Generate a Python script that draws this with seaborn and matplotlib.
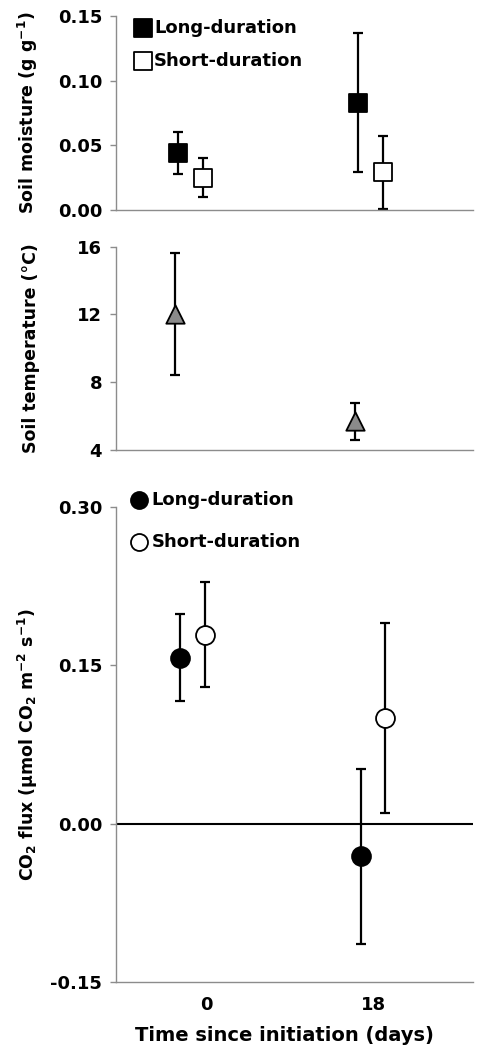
import numpy as np
import matplotlib
matplotlib.use("Agg")
import matplotlib.pyplot as plt
from matplotlib.ticker import FormatStrFormatter
import seaborn as sns

# values (mean and error bar half-width)
days = ["0", "18"]

moist_long = [0.044, 0.083]
moist_long_err = [0.016, 0.054]
moist_short = [0.025, 0.029]
moist_short_err = [0.015, 0.028]

temp = [12.0, 5.7]
temp_err = [3.6, 1.1]

flux_long = [0.157, -0.031]
flux_long_err = [0.041, 0.083]
flux_short = [0.179, 0.100]
flux_short_err = [0.050, 0.090]

sns.set_style("ticks")
plt.rcParams["font.family"] = ["DejaVu Sans"]
plt.rcParams["font.weight"] = "bold"
plt.rcParams["axes.labelweight"] = "bold"
plt.rcParams["mathtext.default"] = "bf"
plt.rcParams["text.color"] = "black"
plt.rcParams["axes.labelcolor"] = "black"

axis_grey = "#8c8c8c"
idx = np.arange(len(days))


def points(ax, y, err, shift, marker, face, size, label=None):
    x = idx + shift
    ax.errorbar(x, y, yerr=err, fmt="none", ecolor="black", elinewidth=1.6,
                capsize=3.8, capthick=1.6, zorder=2)
    sns.scatterplot(x=x, y=y, ax=ax, marker=marker, s=size, color=face,
                    edgecolor="black", linewidth=1.3, label=label, zorder=3)


def style(ax, ylim, yticks, fmt=None):
    ax.set_xlim(-0.422, 1.561)
    ax.set_ylim(*ylim)
    ax.set_yticks(yticks)
    if fmt:
        ax.yaxis.set_major_formatter(FormatStrFormatter(fmt))
    sns.despine(ax=ax)
    for side in ["left", "bottom"]:
        ax.spines[side].set_color(axis_grey)
        ax.spines[side].set_linewidth(1.0)
    ax.tick_params(axis="y", length=4, width=1, color=axis_grey, pad=6,
                   labelsize=13, labelcolor="black")
    ax.yaxis.set_label_coords(-0.213, 0.5)


fig = plt.figure(figsize=(4.78, 10.52), dpi=100)
ax1 = fig.add_axes([0.2427, 0.8004, 0.7469, 0.1844])
ax2 = fig.add_axes([0.2427, 0.5722, 0.7469, 0.1933])
ax3 = fig.add_axes([0.2427, 0.0665, 0.7469, 0.4518])

# soil moisture
points(ax1, moist_long, moist_long_err, -0.078, "s", "black", 160, "Long-duration")
points(ax1, moist_short, moist_short_err, 0.061, "s", "white", 160, "Short-duration")
style(ax1, (0, 0.15), [0, 0.05, 0.10, 0.15], "%.2f")
ax1.set_xticks([])
ax1.set_ylabel("Soil moisture (g g$^{-1}$)", fontsize=12.5)
ax1.legend(loc="upper left", bbox_to_anchor=(0.051, 0.986), frameon=False,
           borderpad=0, borderaxespad=0, handlelength=1.0, handletextpad=0.1,
           labelspacing=0.85, fontsize=13)

# soil temperature
points(ax2, temp, temp_err, -0.094, "^", "#8a8a8a", 175)
style(ax2, (4, 16), [4, 8, 12, 16])
ax2.set_xticks([])
ax2.set_ylabel("Soil temperature (°C)", fontsize=12.5)

# CO2 flux
ax3.axhline(0, color="black", linewidth=1.5, zorder=1)
points(ax3, flux_long, flux_long_err, -0.064, "o", "black", 185, "Long-duration")
points(ax3, flux_short, flux_short_err, 0.072, "o", "white", 185, "Short-duration")
style(ax3, (-0.15, 0.30), [-0.15, 0.0, 0.15, 0.30], "%.2f")
ax3.set_xticks(idx + np.array([0.08, 0.01]))
ax3.set_xticklabels(days)
ax3.tick_params(axis="x", length=0, pad=10, labelsize=13, labelcolor="black")
ax3.set_xlabel("Time since initiation (days)", fontsize=14)
ax3.xaxis.set_label_coords(0.472, -0.093)
ax3.set_ylabel("CO$_2$ flux (μmol CO$_2$ m$^{-2}$ s$^{-1}$)", fontsize=12.5)
ax3.legend(loc="upper left", bbox_to_anchor=(0.039, 1.033), frameon=False,
           borderpad=0, borderaxespad=0, handlelength=1.0, handletextpad=0.2,
           labelspacing=1.3, fontsize=13, markerscale=0.9)

fig.savefig("out.png", dpi=100)
